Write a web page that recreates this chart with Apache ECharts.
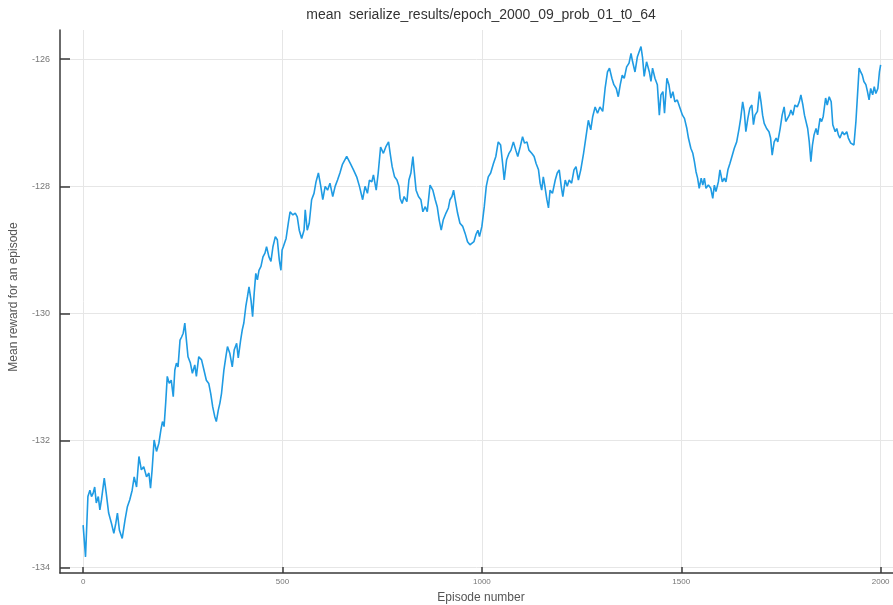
<!DOCTYPE html>
<html>
<head>
<meta charset="utf-8">
<title>mean reward per episode</title>
<script src="https://cdn.jsdelivr.net/npm/echarts@6/dist/echarts.min.js"></script>
<style>
  html, body { margin: 0; padding: 0; background: #ffffff; }
  #chart { width: 893px; height: 605px; }
</style>
</head>
<body>
<div id="chart"></div>
<script>
// Running mean of the episode reward, sampled along the training run.
const episodes = [
  0, 6, 12, 17, 21, 25, 29, 33, 38, 42,
  46, 53, 58, 64, 71, 77, 82, 86, 91, 98,
  105, 111, 117, 123, 128, 134, 140, 146, 152, 159,
  165, 169, 173, 178, 184, 190, 195, 199, 203, 207,
  211, 216, 221, 226, 230, 234, 238, 243, 247, 251,
  255, 259, 263, 269, 274, 280, 284, 290, 297, 303,
  309, 315, 320, 325, 330, 334, 339, 343, 347, 353,
  358, 362, 368, 374, 379, 385, 389, 395, 399, 403,
  408, 412, 416, 421, 425, 429, 433, 437, 441, 446,
  451, 456, 460, 466, 471, 476, 482, 487, 492, 496,
  499, 502, 509, 515, 519, 526, 532, 537, 542, 548,
  554, 557, 562, 567, 573, 579, 584, 590, 596, 601,
  607, 613, 619, 626, 632, 638, 644, 650, 661, 670,
  678, 686, 693, 701, 707, 713, 718, 724, 728, 735,
  740, 746, 753, 759, 766, 770, 775, 781, 787, 792,
  795, 800, 805, 812, 817, 822, 827, 830, 835, 841,
  847, 852, 858, 863, 870, 877, 883, 888, 893, 898,
  903, 910, 916, 920, 925, 929, 933, 939, 945, 952,
  958, 964, 970, 975, 980, 985, 990, 994, 1000, 1006,
  1011, 1016, 1022, 1029, 1035, 1041, 1047, 1052, 1056, 1062,
  1068, 1073, 1079, 1085, 1090, 1096, 1102, 1107, 1113, 1118,
  1125, 1131, 1136, 1142, 1146, 1150, 1154, 1158, 1163, 1167,
  1171, 1177, 1184, 1189, 1194, 1199, 1203, 1209, 1214, 1219,
  1225, 1231, 1236, 1242, 1248, 1255, 1261, 1267, 1273, 1278,
  1284, 1290, 1296, 1303, 1309, 1315, 1320, 1326, 1331, 1337,
  1342, 1347, 1352, 1357, 1363, 1369, 1374, 1378, 1384, 1390,
  1395, 1399, 1403, 1407, 1413, 1420, 1424, 1428, 1434, 1440,
  1445, 1449, 1454, 1458, 1464, 1469, 1474, 1479, 1484, 1490,
  1497, 1503, 1508, 1514, 1518, 1524, 1529, 1533, 1537, 1541,
  1545, 1550, 1554, 1558, 1562, 1568, 1574, 1579, 1583, 1587,
  1593, 1597, 1603, 1608, 1612, 1617, 1622, 1628, 1633, 1639,
  1645, 1649, 1654, 1658, 1662, 1667, 1672, 1677, 1681, 1685,
  1691, 1696, 1700, 1704, 1708, 1714, 1720, 1724, 1728, 1733,
  1738, 1742, 1748, 1753, 1758, 1762, 1766, 1771, 1775, 1780,
  1785, 1791, 1796, 1800, 1805, 1809, 1813, 1817, 1821, 1825,
  1829, 1833, 1838, 1842, 1848, 1852, 1856, 1862, 1866, 1871,
  1876, 1880, 1886, 1890, 1894, 1898, 1904, 1909, 1915, 1919,
  1925, 1929, 1933, 1938, 1942, 1946, 1950, 1954, 1958, 1963,
  1967, 1971, 1975, 1980, 1984, 1988, 1993, 1997, 2000
];

const meanReward = [
  -133.33, -133.83, -132.88, -132.78, -132.88, -132.83, -132.73, -132.98, -132.88, -133.09,
  -132.93, -132.59, -132.83, -133.14, -133.30, -133.46, -133.30, -133.14, -133.41, -133.54,
  -133.25, -133.04, -132.93, -132.78, -132.57, -132.73, -132.25, -132.46, -132.41, -132.57,
  -132.51, -132.75, -132.46, -131.99, -132.17, -132.04, -131.83, -131.70, -131.78, -131.41,
  -130.99, -131.10, -131.05, -131.31, -130.89, -130.78, -130.84, -130.42, -130.37, -130.31,
  -130.15, -130.42, -130.68, -130.78, -130.94, -130.81, -130.99, -130.68, -130.73, -130.89,
  -131.05, -131.10, -131.26, -131.47, -131.62, -131.70, -131.52, -131.41, -131.26, -130.89,
  -130.68, -130.52, -130.63, -130.84, -130.57, -130.47, -130.70, -130.42, -130.26, -130.15,
  -129.89, -129.74, -129.58, -129.79, -130.05, -129.68, -129.37, -129.47, -129.32, -129.26,
  -129.11, -129.05, -128.95, -129.11, -129.18, -128.95, -128.79, -128.84, -129.16, -129.32,
  -129.00, -128.95, -128.82, -128.56, -128.40, -128.45, -128.42, -128.48, -128.69, -128.82,
  -128.69, -128.37, -128.69, -128.58, -128.21, -128.11, -127.93, -127.79, -128.00, -128.21,
  -128.00, -128.06, -127.95, -128.16, -128.00, -127.90, -127.79, -127.66, -127.53, -127.64,
  -127.74, -127.85, -128.00, -128.21, -128.00, -128.11, -127.90, -127.93, -127.82, -128.06,
  -127.79, -127.38, -127.48, -127.38, -127.30, -127.48, -127.69, -127.85, -127.90, -128.00,
  -128.19, -128.27, -128.16, -128.24, -127.90, -127.79, -127.53, -127.74, -128.06, -128.16,
  -128.21, -128.40, -128.32, -128.40, -127.98, -128.06, -128.21, -128.32, -128.53, -128.69,
  -128.53, -128.42, -128.34, -128.21, -128.16, -128.06, -128.21, -128.42, -128.58, -128.63,
  -128.74, -128.87, -128.92, -128.95, -128.87, -128.76, -128.69, -128.79, -128.63, -128.32,
  -128.00, -127.85, -127.79, -127.64, -127.53, -127.30, -127.35, -127.64, -127.90, -127.58,
  -127.48, -127.43, -127.30, -127.43, -127.53, -127.38, -127.22, -127.32, -127.30, -127.43,
  -127.48, -127.53, -127.64, -127.74, -127.95, -128.06, -127.85, -128.00, -128.21, -128.34,
  -128.06, -128.11, -127.90, -127.79, -127.74, -128.00, -128.16, -127.90, -128.00, -127.90,
  -127.95, -127.74, -127.69, -127.90, -127.74, -127.48, -127.22, -126.96, -127.11, -126.90,
  -126.75, -126.85, -126.75, -126.82, -126.46, -126.20, -126.14, -126.30, -126.40, -126.46,
  -126.59, -126.40, -126.25, -126.30, -126.12, -126.06, -125.91, -126.04, -126.20, -125.96,
  -125.93, -125.80, -125.98, -126.27, -126.04, -126.20, -126.35, -126.14, -126.30, -126.40,
  -126.88, -126.56, -126.51, -126.85, -126.30, -126.40, -126.61, -126.51, -126.67, -126.64,
  -126.77, -126.88, -126.93, -127.09, -127.24, -127.40, -127.48, -127.61, -127.77, -127.87,
  -128.03, -127.87, -127.98, -127.87, -128.03, -127.98, -128.03, -128.19, -127.98, -128.08,
  -127.93, -127.74, -127.93, -127.87, -127.93, -127.74, -127.64, -127.51, -127.40, -127.30,
  -127.09, -126.93, -126.67, -126.82, -127.14, -126.93, -126.77, -126.72, -127.03, -126.88,
  -126.82, -126.51, -126.67, -126.88, -127.01, -127.09, -127.14, -127.24, -127.51, -127.30,
  -127.24, -127.30, -127.09, -126.88, -126.75, -126.98, -127.01, -126.88, -126.80, -126.88,
  -126.72, -126.75, -126.67, -126.56, -126.72, -126.88, -126.85, -127.09, -127.30, -127.61,
  -127.35, -127.19, -127.09, -127.19, -126.93, -126.98, -126.90, -126.61, -126.72, -126.59,
  -126.67, -127.03, -127.14, -127.09, -127.19, -127.24, -127.14, -127.19, -127.14, -127.24,
  -127.32, -127.30, -127.35, -126.98, -126.56, -126.14, -126.20, -126.25, -126.35, -126.40,
  -126.51, -126.64, -126.46, -126.56, -126.43, -126.54, -126.46, -126.20, -126.09
];

const xTicks = [0, 500, 1000, 1500, 2000];
const yTicks = [-134, -132, -130, -128, -126];

const chartTitle = 'mean  serialize_results/epoch_2000_09_prob_01_t0_64';
const xTitle = 'Episode number';
const yTitle = 'Mean reward for an episode';

const FONT = '"Liberation Sans", Arial, Helvetica, sans-serif';
const AXIS = '#3a3a3a';
const GRIDLINE = '#e6e6e6';
const LINE = '#1f9be3';

const chart = echarts.init(document.getElementById('chart'), null, { renderer: 'canvas' });

chart.setOption({
  animation: false,
  backgroundColor: '#ffffff',
  grid: { left: 60, right: 0, top: 30, bottom: 32, containLabel: false },
  xAxis: {
    type: 'value',
    min: -58,
    max: 2031,
    axisLine: { show: true, onZero: false, lineStyle: { color: AXIS, width: 1.5 } },
    axisTick: { show: true, inside: true, length: 6, customValues: xTicks, lineStyle: { color: AXIS, width: 1.5 } },
    axisLabel: {
      customValues: xTicks, margin: 5, fontSize: 8, color: '#777', fontFamily: FONT,
      formatter: (v) => String(v)
    },
    splitLine: { show: true, lineStyle: { color: GRIDLINE, width: 1 } }
  },
  yAxis: {
    type: 'value',
    min: -134.083,
    max: -125.54,
    axisLine: { show: true, onZero: false, lineStyle: { color: AXIS, width: 1.5 } },
    axisTick: { show: true, inside: true, length: 10, customValues: yTicks, lineStyle: { color: AXIS, width: 1.5 } },
    axisLabel: {
      customValues: yTicks, margin: 10, fontSize: 9, color: '#777', fontFamily: FONT,
      formatter: (v) => String(v)
    },
    splitLine: { show: true, lineStyle: { color: GRIDLINE, width: 1 } }
  },
  series: [{
    type: 'line',
    data: episodes.map((e, i) => [e, meanReward[i]]),
    showSymbol: false,
    symbol: 'none',
    lineStyle: { color: LINE, width: 1.6 },
    clip: true
  }],
  graphic: [
    {
      type: 'text', x: 481, y: 15,
      style: { text: chartTitle, font: '14px ' + FONT, fill: '#333', textAlign: 'center', textVerticalAlign: 'middle' }
    },
    {
      type: 'text', x: 481, y: 598,
      style: { text: xTitle, font: '12px ' + FONT, fill: '#555', textAlign: 'center', textVerticalAlign: 'middle' }
    },
    {
      type: 'text', x: 14, y: 297, rotation: Math.PI / 2,
      style: { text: yTitle, font: '12px ' + FONT, fill: '#555', textAlign: 'center', textVerticalAlign: 'middle' }
    }
  ]
});
</script>
</body>
</html>
